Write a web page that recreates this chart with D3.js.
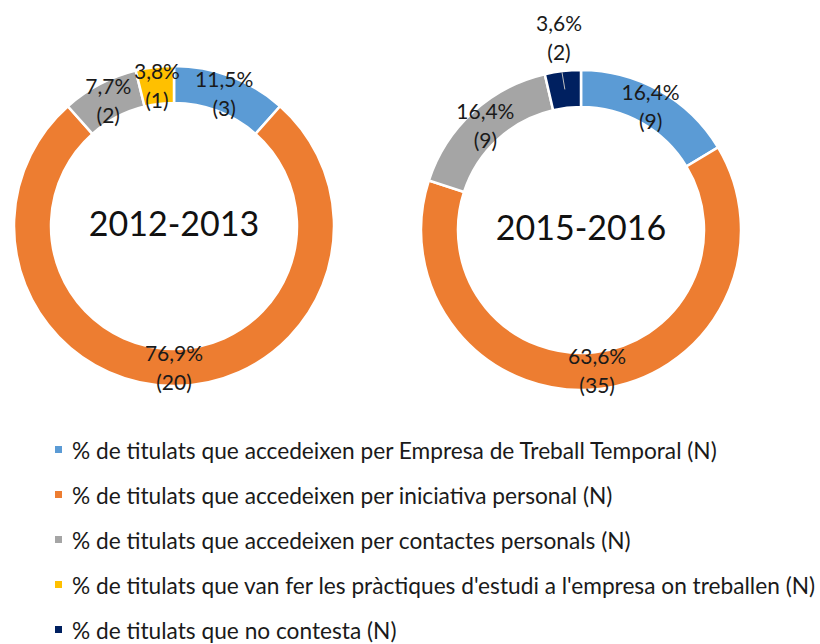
<!DOCTYPE html>
<html>
<head>
<meta charset="utf-8">
<script src="https://cdn.jsdelivr.net/npm/d3@7"></script>
<style>
  body { margin: 0; background: #fff; }
  svg { display: block; font-family: Lato, "Noto Sans", sans-serif; }
</style>
</head>
<body>
<div id="chart"></div>
<script>
// categories (legend order = slice order, clockwise from 12 o'clock)
const categories = [
  '% de titulats que accedeixen per Empresa de Treball Temporal (N)',
  '% de titulats que accedeixen per iniciativa personal (N)',
  '% de titulats que accedeixen per contactes personals (N)',
  "% de titulats que van fer les pràctiques d'estudi a l'empresa on treballen (N)",
  '% de titulats que no contesta (N)'
]
const colors = ['#5B9BD5', '#ED7D31', '#A5A5A5', '#FFC000', '#002060']

// counts per course
const years = ['2012-2013', '2015-2016']
const counts2012 = [3, 20, 2, 1, 0]
const counts2016 = [9, 35, 9, 0, 2]
const series = [counts2012, counts2016]

const width = 820
const height = 644
const outerR = 160
const innerR = 123
const centers = [[174, 226], [581, 230]]

const svg = d3.select('#chart')
  .append('svg')
  .attr('width', width)
  .attr('height', height)

const pie = d3.pie().sort(null).value(d => d.n)
const arc = d3.arc().innerRadius(innerR).outerRadius(outerR)
const midR = (innerR + outerR) / 2
const labelArc = d3.arc().innerRadius(midR).outerRadius(midR)
const outsideArc = d3.arc().innerRadius(193).outerRadius(193)
const fmt = v => d3.format('.1f')(v).replace('.', ',') + '%'

years.forEach((year, i) => {
  const data = series[i].map((n, k) => ({ n, k }))
  const total = d3.sum(series[i])
  const g = svg.append('g')
    .attr('transform', `translate(${centers[i][0]},${centers[i][1]})`)

  const arcs = pie(data).filter(d => d.data.n > 0)

  g.selectAll('path.slice')
    .data(arcs)
    .join('path')
    .attr('class', 'slice')
    .attr('d', arc)
    .attr('fill', d => colors[d.data.k])
    .attr('stroke', '#fff')
    .attr('stroke-width', 2.5)

  // centre title
  g.append('text')
    .attr('y', -4)
    .attr('text-anchor', 'middle')
    .attr('dominant-baseline', 'central')
    .attr('font-size', 34)
    .attr('fill', '#111')
    .text(year)

  // data labels: small slices (< 4%) placed outside with leader line
  arcs.forEach(d => {
    const share = d.data.n / total * 100
    const outside = share < 3.7
    const [x, y] = outside ? outsideArc.centroid(d) : labelArc.centroid(d)
    if (outside) {
      const [lx, ly] = labelArc.centroid(d)
      g.append('line')
        .attr('x1', x + 3).attr('y1', y + 34)
        .attr('x2', lx).attr('y2', ly)
        .attr('stroke', '#bfbfbf')
        .attr('stroke-width', 1)
    }
    const t = g.append('text')
      .attr('text-anchor', 'middle')
      .attr('font-size', 21)
      .attr('fill', '#1a1a1a')
    t.append('tspan').attr('x', x).attr('y', y - 7).text(fmt(share))
    t.append('tspan').attr('x', x).attr('y', y + 22).text(`(${d.data.n})`)
  })
})

// legend
const legend = svg.append('g')
  .selectAll('g')
  .data(categories)
  .join('g')
  .attr('transform', (d, k) => `translate(55,${450 + k * 45})`)

legend.append('rect')
  .attr('x', 0).attr('y', -4)
  .attr('width', 7).attr('height', 7)
  .attr('fill', (d, k) => colors[k])

legend.append('text')
  .attr('x', 17)
  .attr('dominant-baseline', 'central')
  .attr('font-size', 22.7)
  .attr('fill', '#1a1a1a')
  .text(d => d)
</script>
</body>
</html>
